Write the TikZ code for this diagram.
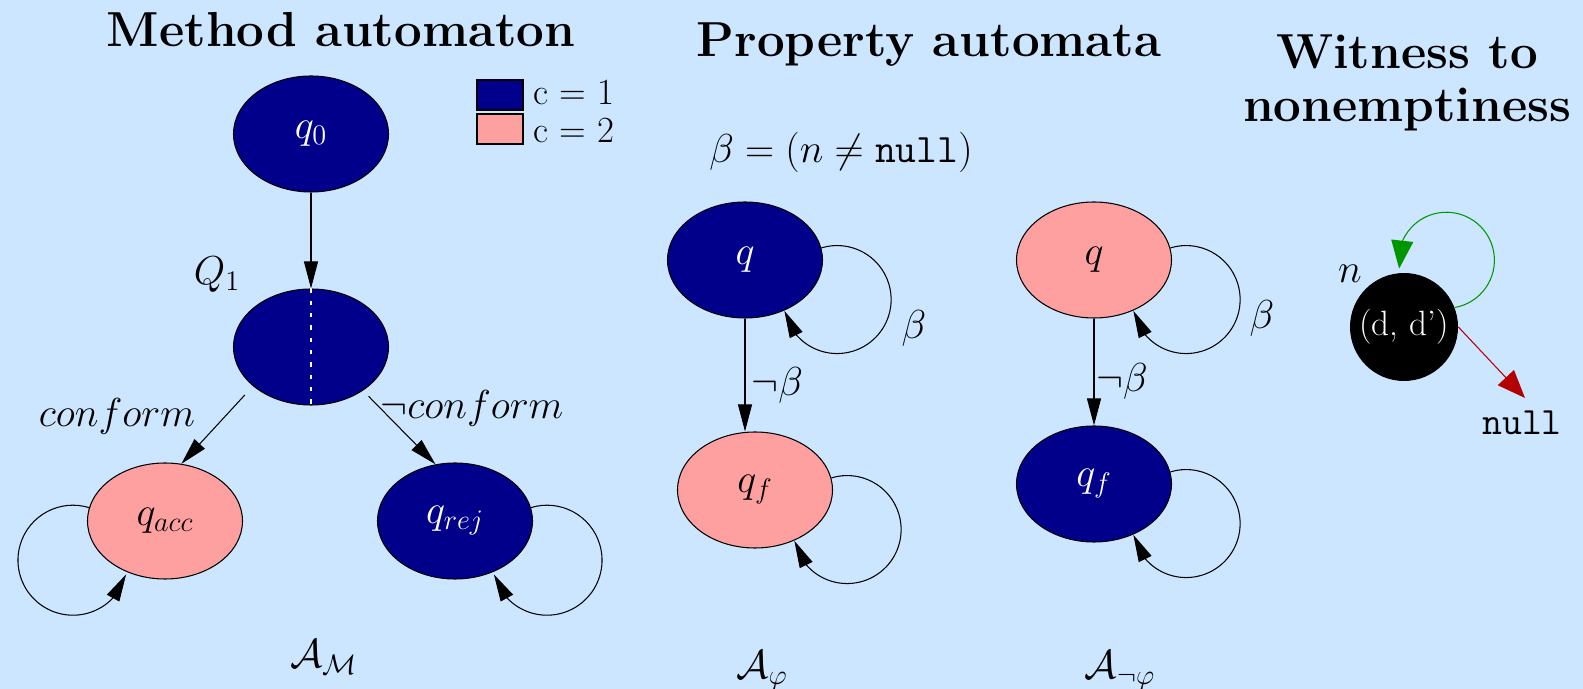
\RequirePackage{fix-cm}
\documentclass[tikz,border=0pt]{standalone}
\usepackage[dvipsnames,svgnames,x11names]{xcolor}
\usepackage{tikz}
\usetikzlibrary{arrows.meta,bending,shapes.geometric}

\definecolor{skyback}{RGB}{204,230,255}
\definecolor{cnavy}{RGB}{0,0,139}
\definecolor{cpink}{RGB}{255,160,160}
\definecolor{loopgreen}{RGB}{0,150,0}
\definecolor{ptrred}{RGB}{180,0,0}

\begin{document}
\begin{tikzpicture}[font=\fontsize{23}{27}\selectfont,>={Triangle[length=5.4mm,width=2.8mm]},
  state/.style={ellipse,draw=black,line width=0.6pt,minimum width=3.1cm,minimum height=2.32cm,inner sep=0pt},
  blue state/.style={state,fill=cnavy,text=white},
  pink state/.style={state,fill=cpink,text=black},
  trans/.style={->,draw=black,line width=0.6pt},
  heading/.style={font=\fontsize{28}{30}\selectfont\bfseries,align=center},
  swatch/.style={rectangle,draw=black,line width=0.8pt,minimum width=0.92cm,minimum height=0.6cm,inner sep=0pt},
  keytext/.style={anchor=base west,inner sep=0pt,font=\fontsize{21}{24}\selectfont}]
\fill[skyback] (0,0) rectangle (31.66,-13.78);
\useasboundingbox (0,0) rectangle (31.66,-13.78);

% headings
\node[heading,anchor=base] (methodtitle) at (6.82,-0.94) {Method automaton};
\node[heading,anchor=base] (proptitle) at (18.58,-1.14) {Property automata};
\node[heading] (wittitle) at (28.14,-1.66) {Witness to\\nonemptiness};

% colour key
\node[swatch,fill=cnavy] (key1) at (10.0,-1.90) {};
\node[swatch,fill=cpink] (key2) at (10.0,-2.58) {};
\node[keytext] (key1txt) at (10.66,-2.10) {c = 1};
\node[keytext] (key2txt) at (10.66,-2.86) {c = 2};

% method automaton
\node[blue state] (q0) at (6.22,-2.68) {$q_0$};
\node[blue state] (Q1) at (6.22,-6.94) {};
\node[pink state] (qacc) at (3.30,-10.42) {$q_{acc}$};
\node[blue state] (qrej) at (9.10,-10.42) {$q_{rej}$};
\node (Q1lbl) at (4.34,-5.50) {$Q_1$};
\draw[white,line width=0.6pt,dash pattern=on 2.5pt off 4.5pt] (Q1.north) -- (Q1.south);
\draw[trans] (q0) -- (Q1);
\draw[trans,shorten <=0.24cm] (Q1.214) -- (qacc.74);
\draw[trans,shorten <=0.16cm] (Q1.-40) -- (qrej.109);
\node (conf) at (2.34,-8.32) {$conform$};
\node (nconf) at (9.44,-8.16) {$\neg conform$};
\draw[trans] (qacc.170) arc[start angle=73,end angle=255,radius=1.1cm]
  arc[start angle=255,end angle=345,radius=1.1cm];
\draw[trans] (qrej.10) arc[start angle=107,end angle=-75,radius=1.1cm]
  arc[start angle=-75,end angle=-165,radius=1.1cm];
\node[anchor=base] (AM) at (6.48,-13.36) {$\mathcal{A}_{\mathcal{M}}$};

% property automata
\node[anchor=base] (betadef) at (16.82,-3.26) {$\beta = (n \neq \texttt{null})$};
\node[blue state] (pq) at (14.90,-5.20) {$q$};
\node[pink state] (pqf) at (15.10,-9.80) {$q_f$};
\draw[trans] (pq.south) -- (pq.south |- pqf.north) node[pos=0.59,right] {$\neg\beta$};
\draw[trans] (pq.9) arc[start angle=107,end angle=-78,radius=1.08cm]
  arc[start angle=-78,end angle=-168,radius=1.08cm];
\draw[trans] (pqf.9) arc[start angle=107,end angle=-78,radius=1.08cm]
  arc[start angle=-78,end angle=-168,radius=1.08cm];
\node (pbeta) at (18.28,-6.56) {$\beta$};
\node[anchor=base] (Aphi) at (15.24,-13.56) {$\mathcal{A}_{\varphi}$};

\node[pink state] (nq) at (21.88,-5.20) {$q$};
\node[blue state] (nqf) at (21.88,-9.68) {$q_f$};
\draw[trans] (nq) -- (nqf) node[pos=0.59,right,inner sep=1pt] {$\neg\beta$};
\draw[trans] (nq.9) arc[start angle=107,end angle=-78,radius=1.08cm]
  arc[start angle=-78,end angle=-168,radius=1.08cm];
\draw[trans] (nqf.9) arc[start angle=107,end angle=-78,radius=1.08cm]
  arc[start angle=-78,end angle=-168,radius=1.08cm];
\node (nbeta) at (25.24,-6.36) {$\beta$};
\node[anchor=base] (Anphi) at (22.40,-13.56) {$\mathcal{A}_{\neg\varphi}$};

% witness
\node[circle,fill=black,minimum size=2.16cm,inner sep=0pt,text=white,font=\fontsize{20}{24}\selectfont] (wit) at (28.08,-6.54) {(d, d')};
\node (nlbl) at (27.0,-5.48) {$n$};
\draw[-{Triangle[length=5.6mm,width=4.4mm]},loopgreen,line width=0.6pt] (wit.21) arc[start angle=-80,end angle=100,radius=0.96cm]
  arc[start angle=100,end angle=190,radius=0.96cm];
\coordinate (nulltip) at (30.50,-7.96);
\node[anchor=base,font=\fontsize{22}{26}\selectfont\ttfamily] (null) at (30.44,-8.70) {null};
\draw[-{Triangle[length=5.6mm,width=4.4mm]},ptrred,line width=0.6pt] (wit.east) -- (nulltip);
\end{tikzpicture}
\end{document}
